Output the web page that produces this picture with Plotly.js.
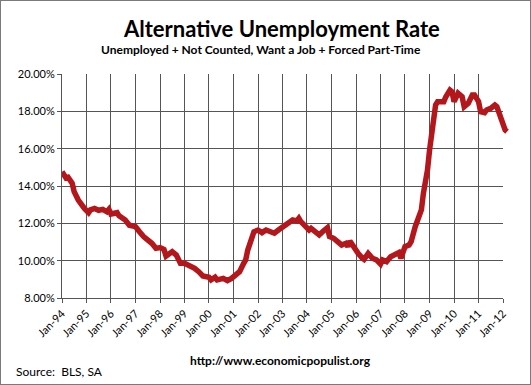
<!DOCTYPE html>
<html>
<head>
<meta charset="utf-8">
<script src="https://cdn.plot.ly/plotly-3.0.1.min.js"></script>
<style>
  html, body { margin: 0; padding: 0; background: #fff; }
  #wrap { position: relative; width: 531px; height: 385px; }
  #chart { position: absolute; left: 0; top: 0; width: 531px; height: 385px; }
  #frame { position: absolute; left: 0; top: 0; width: 529px; height: 383px; border: 1px solid #7a7a7a; pointer-events: none; }
</style>
</head>
<body>
<div id="wrap"><div id="chart"></div><div id="frame"></div></div>
<script>
const dates = [
  "1994-01","1994-03","1994-04","1994-06","1994-07","1994-09","1994-12",
  "1995-02","1995-03","1995-05","1995-07","1995-09","1995-11","1995-12",
  "1996-01","1996-04","1996-05","1996-08","1996-10",
  "1997-01","1997-03","1997-05","1997-09","1997-11",
  "1998-01","1998-03","1998-04","1998-07","1998-09","1998-11",
  "1999-01","1999-03","1999-04","1999-06","1999-08","1999-10",
  "2000-01","2000-02","2000-04","2000-05","2000-08","2000-10","2000-12",
  "2001-02","2001-04","2001-06","2001-07","2001-08","2001-10","2001-11",
  "2002-01","2002-03","2002-05","2002-07","2002-09","2002-11",
  "2003-01","2003-04","2003-06","2003-08","2003-09","2003-10","2003-12",
  "2004-02","2004-03","2004-05","2004-07","2004-09","2004-11","2004-12",
  "2005-02","2005-04","2005-06","2005-08","2005-09","2005-10","2005-12",
  "2006-02","2006-04","2006-05","2006-07","2006-09","2006-11",
  "2007-01","2007-02","2007-04","2007-06","2007-08","2007-10","2007-11",
  "2008-01","2008-03","2008-04","2008-06","2008-08","2008-09","2008-10","2008-12",
  "2009-01","2009-02","2009-03","2009-04","2009-05","2009-08","2009-09","2009-11","2009-12",
  "2010-01","2010-03","2010-05","2010-06","2010-08","2010-10","2010-11",
  "2011-01","2011-02","2011-04","2011-05","2011-07","2011-09","2011-10","2011-11",
  "2012-01","2012-02","2012-03"
];
const rates = [
  14.77,14.43,14.47,14.15,13.70,13.25,12.80,
  12.57,12.72,12.80,12.70,12.75,12.62,12.75,
  12.50,12.57,12.40,12.18,11.90,
  11.82,11.55,11.29,10.93,10.66,
  10.70,10.60,10.25,10.48,10.30,9.86,
  9.86,9.77,9.68,9.59,9.41,9.18,
  9.11,8.97,9.11,8.97,9.05,8.93,9.05,
  9.23,9.41,9.86,10.04,10.57,11.20,11.55,
  11.64,11.50,11.64,11.59,11.47,11.64,
  11.82,12.00,12.18,12.13,12.27,12.09,11.82,
  11.64,11.73,11.52,11.38,11.59,11.77,11.29,
  11.20,11.02,10.84,10.93,10.75,11.05,10.66,
  10.39,10.15,10.07,10.39,10.13,10.04,
  9.82,10.04,9.95,10.21,10.30,10.43,10.13,
  10.75,10.84,11.02,11.82,12.36,12.72,13.61,14.86,
  15.93,16.82,17.90,18.34,18.52,18.52,18.78,19.14,19.05,
  18.52,18.97,18.78,18.25,18.43,18.88,18.88,
  18.52,17.98,17.93,18.07,18.16,18.34,18.25,17.90,
  17.36,17.00,16.91
];
// x-axis tick positions and labels
const tickDates = ["1994-01-01","1995-01-01","1996-01-01","1997-01-01","1998-01-01","1999-01-01",
  "2000-01-01","2001-01-01","2002-01-01","2003-01-01","2004-01-01","2005-01-01","2006-01-01",
  "2007-01-01","2008-01-01","2009-01-01","2010-01-01","2011-01-01","2012-01-01"];
const tickLabels = ["Jan-94","Jan-95","Jan-96","Jan-97","Jan-98","Jan-99","Jan-00","Jan-01",
  "Jan-02","Jan-03","Jan-04","Jan-05","Jan-06","Jan-07","Jan-08","Jan-09","Jan-10","Jan-11","Jan-12"];
// y-axis ticks
const yTicks = [8, 10, 12, 14, 16, 18, 20];
const yLabels = ["8.00%","10.00%","12.00%","14.00%","16.00%","18.00%","20.00%"];

const FONT = "Lato, 'Open Sans', sans-serif";

// plot geometry (pixels)
const L = 62, GRID_R = 503, LINE_R = 509, T = 74, B = 298;
const W = 531, H = 385;
const mainFrac = (GRID_R - L) / (LINE_R - L);
// the line layer extends slightly past the last gridline, like the original
const startMs = Date.UTC(1994, 0, 1), endMs = Date.UTC(2012, 0, 1);
const extEnd = new Date(startMs + (endMs - startMs) / mainFrac).toISOString().slice(0, 10);

const trace = {
  x: dates, y: rates, type: "scatter", mode: "lines",
  xaxis: "x2", yaxis: "y2",
  line: { color: "#B3161B", width: 5.5, shape: "linear" },
  hoverinfo: "skip"
};
// empty trace to keep the grid axes drawn
const gridTrace = { x: [], y: [], type: "scatter", mode: "lines", xaxis: "x", yaxis: "y", hoverinfo: "skip" };

const axisCommon = {
  showgrid: true, gridcolor: "#555555", gridwidth: 1,
  showline: true, linecolor: "#555555", linewidth: 1,
  ticks: "outside", ticklen: 4, tickcolor: "#555555",
  zeroline: false, fixedrange: true
};

const layout = {
  width: W, height: H,
  margin: { l: L, r: W - LINE_R, t: T, b: H - B },
  paper_bgcolor: "#ffffff", plot_bgcolor: "rgba(0,0,0,0)",
  showlegend: false,
  font: { family: FONT, color: "#000", size: 11 },
  title: {
    text: "<b>Alternative Unemployment Rate</b>",
    font: { family: FONT, size: 22, color: "#000" },
    x: 0.492, xanchor: "center", y: 0.925, yanchor: "middle", xref: "paper", yref: "container"
  },
  xaxis: Object.assign({}, axisCommon, {
    type: "date", domain: [0, mainFrac],
    range: ["1994-01-01", "2012-01-01"],
    tickvals: tickDates, ticktext: tickLabels,
    tickangle: -45,
    tickfont: { family: FONT, size: 11, color: "#000" }
  }),
  yaxis: Object.assign({}, axisCommon, {
    range: [8, 20],
    tickvals: yTicks, ticktext: yLabels,
    tickfont: { family: FONT, size: 11, color: "#000" }
  }),
  xaxis2: {
    type: "date", domain: [0, 1], anchor: "y2",
    range: ["1994-01-01", extEnd],
    visible: false, showgrid: false, zeroline: false, fixedrange: true
  },
  yaxis2: {
    range: [8, 20], anchor: "x2", domain: [0, 1],
    visible: false, showgrid: false, zeroline: false, fixedrange: true
  },
  annotations: []
};

// annotations positioned in pixels
function px2x(px) { return (px - L) / (LINE_R - L); }
function px2y(py) { return (B - py) / (B - T); }
layout.annotations.push(
  { text: "<b>Unemployed + Not Counted, Want a Job + Forced Part-Time</b>",
    xref: "paper", yref: "paper", x: px2x(261), y: px2y(50), xanchor: "center", yanchor: "middle",
    showarrow: false, font: { family: FONT, size: 12, color: "#000" } },
  { text: "<b>http://www.economicpopulist.org</b>",
    xref: "paper", yref: "paper", x: px2x(280), y: px2y(360), xanchor: "center", yanchor: "middle",
    showarrow: false, font: { family: FONT, size: 12, color: "#000" } },
  { text: "Source:  BLS, SA",
    xref: "paper", yref: "paper", x: px2x(14), y: px2y(371), xanchor: "left", yanchor: "middle",
    showarrow: false, font: { family: FONT, size: 12, color: "#000" } }
);

Plotly.newPlot("chart", [gridTrace, trace], layout, { displayModeBar: false, staticPlot: true });
</script>
</body>
</html>
